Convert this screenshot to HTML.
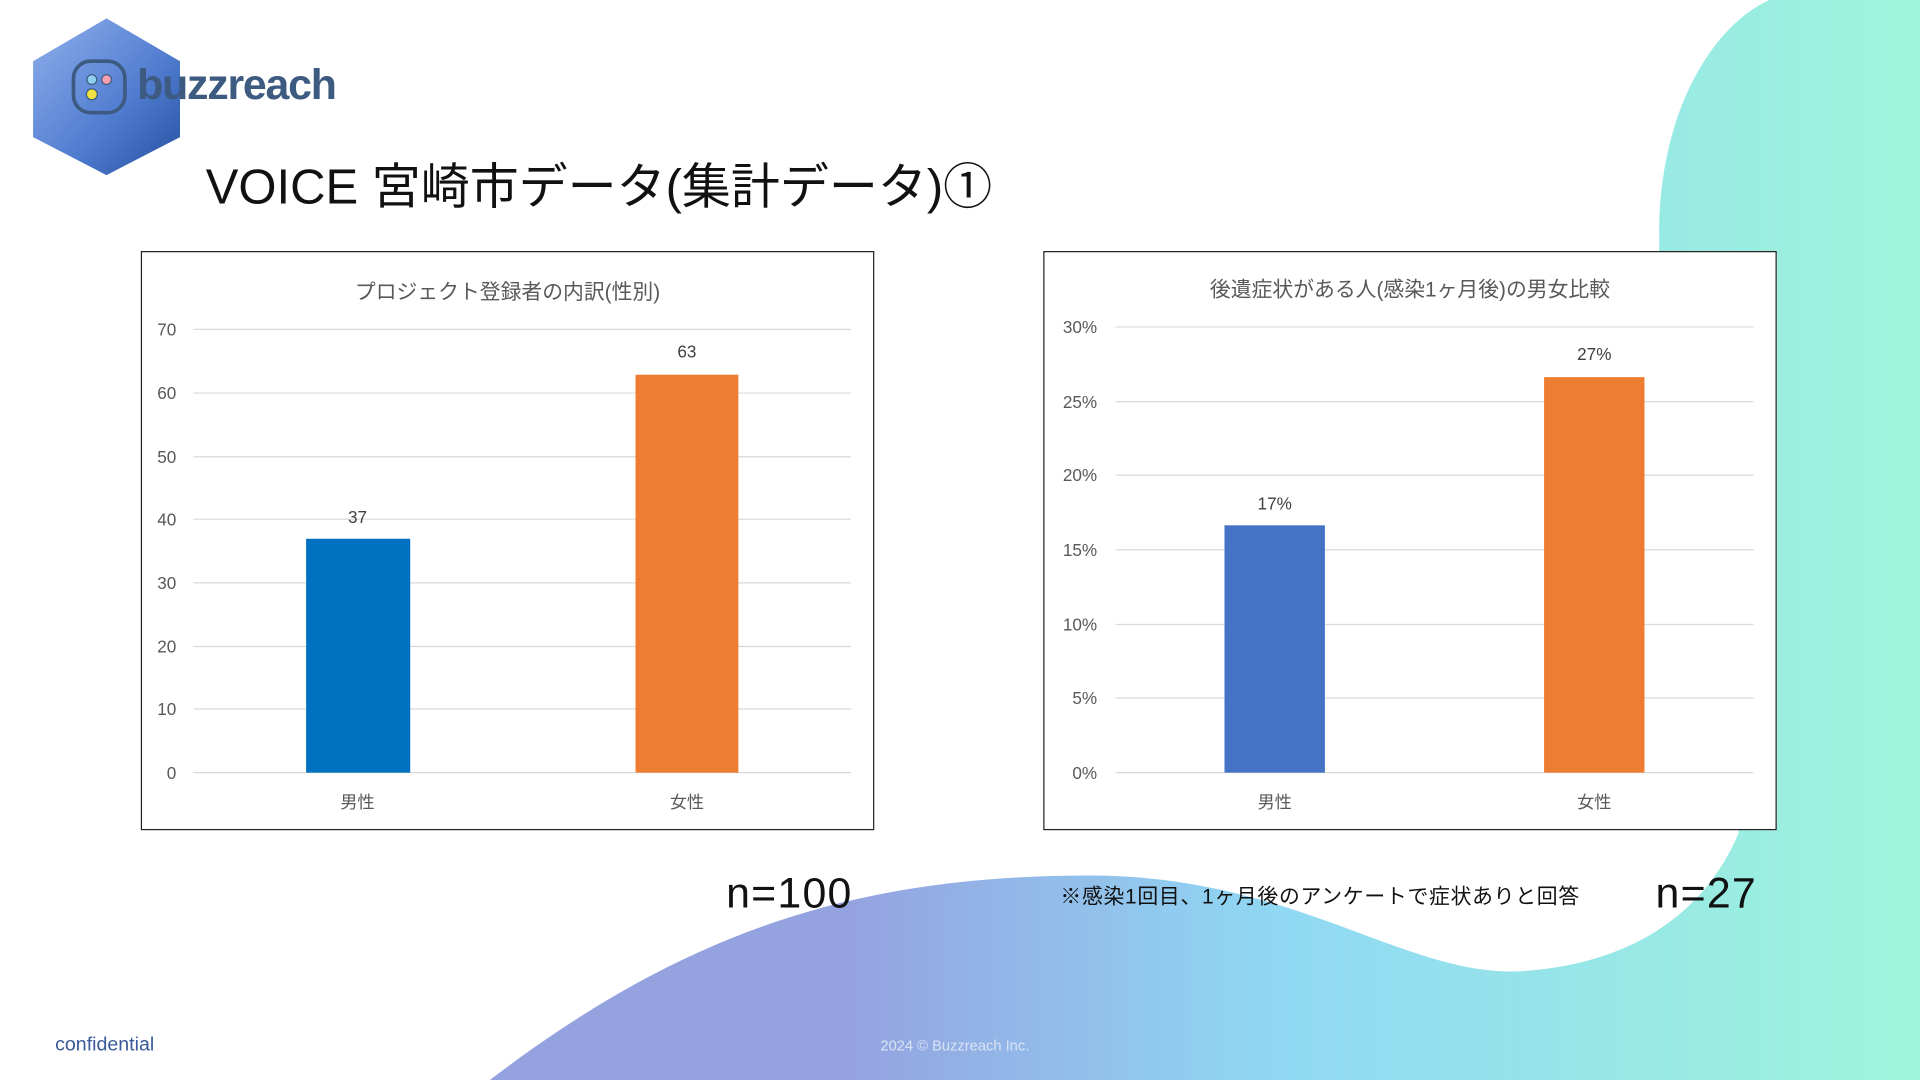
<!DOCTYPE html>
<html><head><meta charset="utf-8"><style>
html,body{margin:0;padding:0;width:1920px;height:1080px;overflow:hidden;background:#fff}
#w{position:absolute;left:0;top:0;width:1568px;height:882px;transform:scale(1.22449);transform-origin:0 0;font-family:"Liberation Sans","Noto Sans CJK JP",sans-serif}
.a{position:absolute;white-space:nowrap}
.box{position:absolute;background:#fff;border:1.5px solid #222;box-sizing:border-box}
.t{color:#595959;font-size:14px}
</style></head><body><div id="w">
<svg class="a" style="left:0;top:0" width="1568" height="882">
<defs><linearGradient id="g" x1="0" y1="0" x2="1" y2="0"><stop offset="0.25" stop-color="#94a2e0"/><stop offset="0.55" stop-color="#90d8f4"/><stop offset="1" stop-color="#9ef5da"/></linearGradient>
<linearGradient id="h" x1="0" y1="0" x2="1" y2="1"><stop offset="0" stop-color="#8fb0ec"/><stop offset="0.6" stop-color="#4f7bcf"/><stop offset="1" stop-color="#244f9e"/></linearGradient></defs>
<path d="M400,882 C560,760 700,715 890,715 C1060,715 1150,800 1245,793 C1340,786 1395,740 1420,680 C1395,560 1355,360 1355,190 C1355,90 1400,20 1445,0 L1568,0 L1568,882 Z" fill="url(#g)"/>
<polygon points="87,15 147,50 147,112 87,143 27,112 27,50" fill="url(#h)"/>
<rect x="60" y="50" width="42" height="42" rx="14" fill="none" stroke="#3d5a80" stroke-width="3"/>
<circle cx="75" cy="65" r="4" fill="#8fd0f0" stroke="#3d5a80"/><circle cx="87" cy="65" r="4" fill="#f4a0b0" stroke="#3d5a80"/><circle cx="75" cy="77" r="4.5" fill="#f0e040" stroke="#3d5a80"/>
</svg>
<div class="a" style="left:112px;top:50px;font-size:35px;font-weight:bold;color:#3d5a80;letter-spacing:-1px">buzzreach</div>
<div class="a" style="left:168px;top:120px;font-size:40px;color:#111">VOICE 宮崎市データ(集計データ)①</div>

<div class="box" style="left:115px;top:205px;width:599px;height:473px"></div>
<div class="box" style="left:852px;top:205px;width:599px;height:473px"></div>
<div class="a t" style="left:115px;width:599px;text-align:center;top:224px;font-size:17px">プロジェクト登録者の内訳(性別)</div>
<div class="a t" style="left:852px;width:599px;text-align:center;top:222px;font-size:17px">後遺症状がある人(感染1ヶ月後)の男女比較</div>
<svg class="a" style="left:0;top:0" width="1568" height="882">
<g stroke="#d9d9d9" stroke-width="1">
<line x1="158" x2="695" y1="269" y2="269"/><line x1="158" x2="695" y1="321" y2="321"/><line x1="158" x2="695" y1="373" y2="373"/><line x1="158" x2="695" y1="424" y2="424"/><line x1="158" x2="695" y1="476" y2="476"/><line x1="158" x2="695" y1="528" y2="528"/><line x1="158" x2="695" y1="579" y2="579"/><line x1="158" x2="695" y1="631" y2="631"/>
<line x1="911" x2="1432" y1="267" y2="267"/><line x1="911" x2="1432" y1="328" y2="328"/><line x1="911" x2="1432" y1="388" y2="388"/><line x1="911" x2="1432" y1="449" y2="449"/><line x1="911" x2="1432" y1="510" y2="510"/><line x1="911" x2="1432" y1="570" y2="570"/><line x1="911" x2="1432" y1="631" y2="631"/>
</g>
<rect x="250" y="440" width="85" height="191" fill="#0070c0"/>
<rect x="519" y="306" width="84" height="325" fill="#ed7d31"/>
<rect x="1000" y="429" width="82" height="202" fill="#4472c4"/>
<rect x="1261" y="308" width="82" height="323" fill="#ed7d31"/>
<g fill="#595959" font-size="14" font-family="Liberation Sans, Noto Sans CJK JP, sans-serif" text-anchor="end">
<text x="144" y="274">70</text><text x="144" y="326">60</text><text x="144" y="378">50</text><text x="144" y="429">40</text><text x="144" y="481">30</text><text x="144" y="533">20</text><text x="144" y="584">10</text><text x="144" y="636">0</text>
<text x="896" y="272">30%</text><text x="896" y="333">25%</text><text x="896" y="393">20%</text><text x="896" y="454">15%</text><text x="896" y="515">10%</text><text x="896" y="575">5%</text><text x="896" y="636">0%</text>
</g>
<g fill="#404040" font-size="14" font-family="Liberation Sans, Noto Sans CJK JP, sans-serif" text-anchor="middle">
<text x="292" y="427">37</text><text x="561" y="292">63</text>
<text x="1041" y="416">17%</text><text x="1302" y="294">27%</text>
</g>
<g fill="#595959" font-size="14" font-family="Liberation Sans, Noto Sans CJK JP, sans-serif" text-anchor="middle">
<text x="292" y="660">男性</text><text x="561" y="660">女性</text><text x="1041" y="660">男性</text><text x="1302" y="660">女性</text>
</g>
</svg>

<div class="a" style="left:593px;top:710px;font-size:35px;letter-spacing:1px;color:#111">n=100</div>
<div class="a" style="left:1352px;top:710px;font-size:35px;letter-spacing:1px;color:#111">n=27</div>
<div class="a" style="left:866px;top:718px;font-size:17px;letter-spacing:0.6px;color:#111">※感染1回目、1ヶ月後のアンケートで症状ありと回答</div>
<div class="a" style="left:45px;top:845px;font-size:16px;color:#3a5a9a">confidential</div>
<div class="a" style="left:719px;top:847px;font-size:12px;color:#d8e4f4">2024 © Buzzreach Inc.</div>
</div></body></html>
